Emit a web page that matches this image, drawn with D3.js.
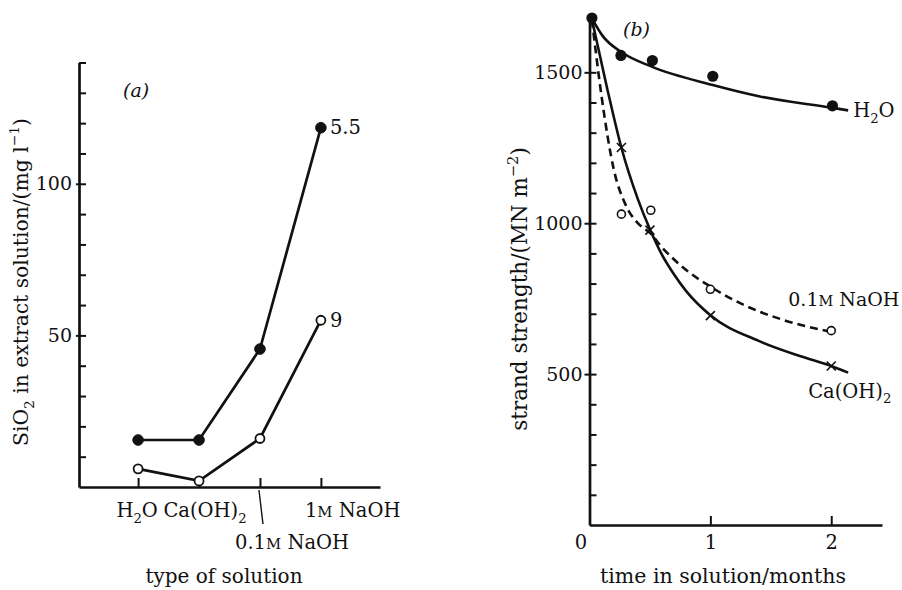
<!DOCTYPE html>
<html>
<head>
<meta charset="utf-8">
<script src="https://cdn.jsdelivr.net/npm/d3@7"></script>
<style>
  body { margin: 0; background: #fff; }
  text { font-family: "DejaVu Serif", serif; fill: #111; }
  .axis path, .axis line { stroke: #111; }
</style>
</head>
<body>
<svg id="chart" width="902" height="590"></svg>
<script>
// ---- panel (a): SiO2 extracted by each solution
var solutions = ["H2O", "Ca(OH)2", "0.1M NaOH", "1M NaOH"];
var sio2Filled = [15.5, 15.5, 45.5, 118.5];
var sio2Open = [6, 2, 16, 55];
var endNotes = ["5.5", "9"];
var sio2Ticks = d3.range(10, 141, 10);
var sio2Labelled = [50, 100];

// ---- panel (b): strand strength against time (months, MN m-2)
var h2oTime = [0.02, 0.26, 0.52, 1.02, 2.01];
var h2oStrength = [1680, 1556, 1539, 1487, 1389];
var caTime = [0.264, 0.5, 1.0, 2.0];
var caStrength = [1251, 977, 694, 527];
var naohTime = [0.264, 0.507, 1.0, 2.0];
var naohStrength = [1030, 1043, 781, 644];

// fitted curves as drawn on the figure
var h2oCurveTime = [0.02, 0.11, 0.26, 0.52, 1.02, 1.41, 2.0, 2.14];
var h2oCurveStrength = [1679, 1620, 1568, 1518, 1458, 1420, 1383, 1374];
var caCurveTime = [0.02, 0.15, 0.264, 0.4, 0.5, 0.6, 0.7, 0.8, 1.0, 1.4, 1.74, 2.0, 2.14];
var caCurveStrength = [1675, 1440, 1250, 1080, 980, 895, 830, 775, 695, 610, 560, 527, 505];
var naohCurveTime = [0.02, 0.1, 0.2, 0.3, 0.4, 0.5, 0.6, 0.8, 1.0, 1.3, 1.6, 2.0];
var naohCurveStrength = [1675, 1420, 1180, 1060, 1000, 968, 920, 845, 790, 725, 680, 640];

var timeTicks = [0, 1, 2];
var strengthTicks = d3.range(100, 1501, 100);
var strengthLabelled = [500, 1000, 1500];

var svg = d3.select("#chart");

// chemistry-ish text: subscript digits after letters, small-caps molar M
function chem(str) {
  var parts = [];
  for (var i = 0; i < str.length; i++) {
    var c = str[i], prev = str[i - 1];
    if (/\d/.test(c) && prev && /[A-Za-z)]/.test(prev)) parts.push([c, "sub"]);
    else if (c === "M" && prev && /\d/.test(prev)) parts.push([c, "sc"]);
    else parts.push([c, ""]);
  }
  return parts;
}

function rich(text, parts, size) {
  var shift = 0;
  parts.forEach(function(p) {
    var s = p[1] === "sub" ? 0.3 : p[1] === "sup" ? -0.42 : 0;
    var t = text.append("tspan").text(p[0]);
    if (s !== shift) t.attr("dy", ((s - shift) * size) + "px");
    if (p[1] === "sub" || p[1] === "sup") t.attr("font-size", (size * 0.68) + "px");
    if (p[1] === "sc") t.attr("font-size", (size * 0.76) + "px");
    shift = s;
  });
  return text;
}

function styleAxis(g, size) {
  g.attr("class", "axis").attr("font-family", null).attr("font-size", null);
  g.select(".domain").attr("stroke-width", 2.7);
  g.selectAll(".tick line").attr("stroke-width", 2);
  g.selectAll(".tick text").attr("font-size", size + "px").attr("fill", "#111");
}

// ================= panel (a)
var xa = d3.scalePoint().domain(solutions).range([79, 380]).padding(0.97);
var ya = d3.scaleLinear().domain([0, 140]).range([487, 62.5]);

var gay = svg.append("g").attr("transform", "translate(79,0)")
  .call(d3.axisLeft(ya).tickValues(sio2Ticks).tickSize(-7).tickSizeOuter(0).tickPadding(7)
    .tickFormat(function(d) { return sio2Labelled.indexOf(d) >= 0 ? d : ""; }));
styleAxis(gay, 19);
gay.selectAll(".tick").filter(function(d) { return sio2Labelled.indexOf(d) >= 0; })
  .append("line").attr("x1", -3).attr("x2", 0).attr("stroke", "#111").attr("stroke-width", 2);

var gax = svg.append("g").attr("transform", "translate(0,487)")
  .call(d3.axisBottom(xa).tickSize(-9).tickSizeOuter(0).tickFormat(""));
styleAxis(gax, 19);

// category labels
var catShift = { "H2O": [-1, 30, "middle"], "Ca(OH)2": [6, 30, "middle"],
                 "0.1M NaOH": [-25, 62, "start"], "1M NaOH": [-16, 30, "start"] };
solutions.forEach(function(s) {
  var o = catShift[s];
  rich(svg.append("text")
      .attr("x", xa(s) + o[0]).attr("y", 487 + o[1])
      .attr("text-anchor", o[2]).attr("font-size", "19.5px"), chem(s), 19.5);
});
svg.append("line")
  .attr("x1", xa(solutions[2]) - 1).attr("y1", 490)
  .attr("x2", xa(solutions[2]) + 3).attr("y2", 524)
  .attr("stroke", "#111").attr("stroke-width", 1.4);

var lineA = d3.line().x(function(d, i) { return xa(solutions[i]); }).y(function(d) { return ya(d); });
[sio2Filled, sio2Open].forEach(function(series, k) {
  svg.append("path").datum(series).attr("d", lineA)
    .attr("fill", "none").attr("stroke", "#111").attr("stroke-width", 2.7);
  svg.selectAll(null).data(series).enter().append("circle")
    .attr("cx", function(d, i) { return xa(solutions[i]); })
    .attr("cy", function(d) { return ya(d); })
    .attr("r", k === 0 ? 5.3 : 4.5)
    .attr("fill", k === 0 ? "#111" : "#fff")
    .attr("stroke", "#111").attr("stroke-width", k === 0 ? 1 : 1.8);
  svg.append("text")
    .attr("x", xa(solutions[3]) + 9).attr("y", ya(series[3]) + 6.5)
    .attr("font-size", "19.5px").text(endNotes[k]);
});

svg.append("text").attr("x", 123).attr("y", 97).attr("font-size", "19px")
  .attr("font-style", "italic").text("(a)");

rich(svg.append("text").attr("transform", "translate(28,282) rotate(-90)")
    .attr("text-anchor", "middle").attr("font-size", "20.3px"),
  [["Si", ""], ["O", ""], ["2", "sub"], [" in extract solution/(mg l", ""], ["\u22121", "sup"], [")", ""]], 20.3);

svg.append("text").attr("x", 224).attr("y", 583).attr("text-anchor", "middle")
  .attr("font-size", "20px").text("type of solution");

// ================= panel (b)
var xb = d3.scaleLinear().domain([0, 2.42]).range([589.5, 882]);
var yb = d3.scaleLinear().domain([0, 1680]).range([525, 18]);

var gby = svg.append("g").attr("transform", "translate(589.5,0)")
  .call(d3.axisLeft(yb).tickValues(strengthTicks).tickSize(-7).tickSizeOuter(0).tickPadding(7)
    .tickFormat(function(d) { return strengthLabelled.indexOf(d) >= 0 ? d : ""; }));
styleAxis(gby, 19);
gby.selectAll(".tick").filter(function(d) { return strengthLabelled.indexOf(d) >= 0; })
  .append("line").attr("x1", -5).attr("x2", 0).attr("stroke", "#111").attr("stroke-width", 2);

var gbx = svg.append("g").attr("transform", "translate(0,525)")
  .call(d3.axisBottom(xb).tickValues(timeTicks).tickSize(-9).tickSizeOuter(0).tickPadding(10)
    .tickFormat(d3.format("d")));
styleAxis(gbx, 19.5);
gbx.select(".tick line").attr("stroke", "none");
gbx.select(".tick text").attr("dx", "-9px");

var curve = d3.line().curve(d3.curveMonotoneX)
  .x(function(d) { return xb(d[0]); }).y(function(d) { return yb(d[1]); });

function curvePath(ts, vs, dash) {
  svg.append("path").datum(ts.map(function(t, i) { return [t, vs[i]]; }))
    .attr("d", curve).attr("fill", "none").attr("stroke", "#111")
    .attr("stroke-width", 2.6).attr("stroke-dasharray", dash || null);
}
curvePath(h2oCurveTime, h2oCurveStrength);
curvePath(caCurveTime, caCurveStrength);
curvePath(naohCurveTime, naohCurveStrength, "8,5");

svg.selectAll(null).data(h2oTime).enter().append("circle")
  .attr("cx", function(d) { return xb(d); })
  .attr("cy", function(d, i) { return yb(h2oStrength[i]); })
  .attr("r", 5.6).attr("fill", "#111");

svg.selectAll(null).data(naohTime).enter().append("circle")
  .attr("cx", function(d) { return xb(d); })
  .attr("cy", function(d, i) { return yb(naohStrength[i]); })
  .attr("r", 4).attr("fill", "#fff").attr("stroke", "#111").attr("stroke-width", 1.6);

svg.selectAll(null).data(caTime).enter().append("path")
  .attr("transform", function(d, i) { return "translate(" + xb(d) + "," + yb(caStrength[i]) + ")"; })
  .attr("d", "M-4.5,-4.5L4.5,4.5M-4.5,4.5L4.5,-4.5")
  .attr("stroke", "#111").attr("stroke-width", 1.6);

// series labels
var lastH = h2oCurveTime.length - 1;
rich(svg.append("text").attr("x", xb(h2oCurveTime[lastH]) + 5).attr("y", yb(h2oCurveStrength[lastH]) + 7)
  .attr("font-size", "19.5px"), chem("H2O"), 19.5);
rich(svg.append("text").attr("x", xb(naohTime[3]) - 43).attr("y", yb(naohStrength[3]) - 25)
  .attr("font-size", "19px"), chem("0.1M NaOH"), 19);
var lastC = caCurveTime.length - 1;
rich(svg.append("text").attr("x", xb(caCurveTime[lastC]) - 40).attr("y", yb(caCurveStrength[lastC]) + 25)
  .attr("font-size", "19.5px"), chem("Ca(OH)2"), 19.5);

svg.append("text").attr("x", 623).attr("y", 36).attr("font-size", "19px")
  .attr("font-style", "italic").text("(b)");

rich(svg.append("text").attr("transform", "translate(527,289) rotate(-90)")
    .attr("text-anchor", "middle").attr("font-size", "21.5px"),
  [["strand strength/(MN m", ""], ["\u22122", "sup"], [")", ""]], 21.5);

svg.append("text").attr("x", 723).attr("y", 583).attr("text-anchor", "middle")
  .attr("font-size", "20.5px").text("time in solution/months");
</script>
</body>
</html>
